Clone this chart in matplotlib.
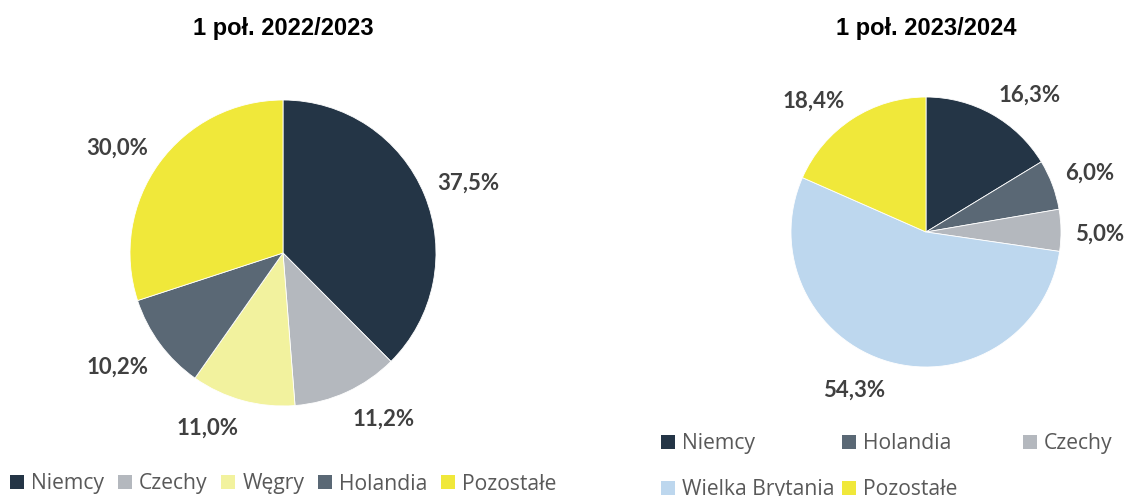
import numpy as np
import matplotlib.pyplot as plt
from matplotlib.patches import Patch

# data
labels_a = ['Niemcy', 'Czechy', 'Węgry', 'Holandia', 'Pozostałe']
values_a = [37.5, 11.2, 11.0, 10.2, 30.0]
labels_b = ['Niemcy', 'Holandia', 'Czechy', 'Wielka Brytania', 'Pozostałe']
values_b = [16.3, 6.0, 5.0, 54.3, 18.4]
title_a = '1 poł. 2022/2023'
title_b = '1 poł. 2023/2024'

colors = {
    'Niemcy': '#243546',
    'Czechy': '#B4B8BE',
    'Węgry': '#F2F29E',
    'Holandia': '#5A6875',
    'Pozostałe': '#F0E83A',
    'Wielka Brytania': '#BDD7EE',
}

W, H = 1125, 496
fig = plt.figure(figsize=(W / 100, H / 100), dpi=100)
renderer = fig.canvas.get_renderer()


def pie_axes(cx, cy, r):
    return fig.add_axes([(cx - r) / W, (H - cy - r) / H, 2 * r / W, 2 * r / H])


def fmt(v):
    return ('%.1f%%' % v).replace('.', ',')


def draw(ax, labels, values, title, r_px, gap_px=14):
    wedges, _ = ax.pie(values, colors=[colors[l] for l in labels], startangle=90,
                       counterclock=False, radius=1,
                       wedgeprops=dict(edgecolor='white', linewidth=0.6))
    ax.set_xlim(-1, 1)
    ax.set_ylim(-1, 1)
    ax.set_aspect('equal')
    # outside-end labels, box pushed away from the edge like Excel does
    rr = 1 + gap_px / r_px
    for w, v in zip(wedges, values):
        ang = np.deg2rad((w.theta1 + w.theta2) / 2)
        c, s = np.cos(ang), np.sin(ang)
        t = ax.annotate(fmt(v), (rr * c, rr * s), xytext=(0, 0), textcoords='offset pixels',
                        ha='center', va='center', fontsize=16, fontweight='bold',
                        color='#404040', family='Lato', annotation_clip=False)
        bb = t.get_window_extent(renderer)
        dx = bb.width / 2 * np.clip(4 * c, -1, 1)
        dy = bb.height / 2 * np.clip(3 * s, -1, 1) - 4
        t.set_position((dx, dy))
    fig.text(ax.get_position().x0 + ax.get_position().width / 2, 1 - 28 / H, title,
             ha='center', va='center', fontsize=17, fontweight='bold',
             family='Liberation Sans', color='black')


ax1 = pie_axes(283, 253, 153)
draw(ax1, labels_a, values_a, title_a, 153)
ax2 = pie_axes(926, 232, 135)
draw(ax2, labels_b, values_b, title_b, 135)

leg_kw = dict(frameon=False, handlelength=0.65, handleheight=0.65, handletextpad=0.35,
              prop=dict(family='Open Sans', size=15.2), labelcolor='#595959',
              borderaxespad=0, borderpad=0)

# left legend, one row
h_a = [Patch(facecolor=colors[l], label=l) for l in labels_a]
fig.legend(handles=h_a, ncol=5, loc='center left', bbox_to_anchor=(10 / W, 1 - 484 / H),
           columnspacing=0.65, **leg_kw)

# right legend, three equal columns (second row is cut by the bottom edge, as in the source)
cols = [['Niemcy', 'Wielka Brytania'], ['Holandia', 'Pozostałe'], ['Czechy']]
col_x = [661, 842, 1023]
for names, x in zip(cols, col_x):
    hs = [Patch(facecolor=colors[n], label=n) for n in names]
    fig.legend(handles=hs, ncol=1, loc='upper left', bbox_to_anchor=(x / W, 1 - 433 / H),
               labelspacing=1.2, **leg_kw)

fig.savefig('out.png', dpi=100)
